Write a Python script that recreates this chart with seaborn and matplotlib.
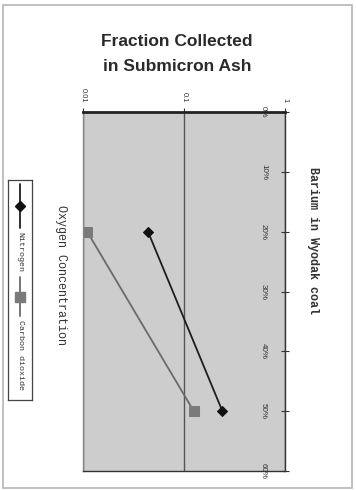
import numpy as np
import pandas as pd
import seaborn as sns
import matplotlib.pyplot as plt
from matplotlib.patches import Rectangle
from matplotlib.lines import Line2D

oxygen = [20, 50]
nitrogen = [0.044, 0.24]
carbon_dioxide = [0.011, 0.125]
oxygen_ticks = [0, 10, 20, 30, 40, 50, 60]
oxygen_labels = ["0%", "10%", "20%", "30%", "40%", "50%", "60%"]
frac_ticks = [0.01, 0.1, 1]
frac_labels = ["0.01", "0.1", "1"]

df = pd.DataFrame({
    "oxygen": oxygen * 2,
    "fraction": nitrogen + carbon_dioxide,
    "gas": ["Nitrogen"] * len(oxygen) + ["Carbon dioxide"] * len(oxygen),
})

styles = {
    "Nitrogen": dict(color="#1e1e1e", marker="D", ms=5.5, mec="#111111", mfc="#111111"),
    "Carbon dioxide": dict(color="#6a6a6a", marker="s", ms=6.5, mec="#7a7a7a", mfc="#7a7a7a"),
}

sns.set_style("white")
plt.rcParams["font.family"] = ["Liberation Sans", "DejaVu Sans"]
mono = ["Liberation Mono", "DejaVu Sans Mono"]

W, H = 356, 490
fig = plt.figure(figsize=(W / 100, H / 100), dpi=100)

# outer frame
fig.patches.append(Rectangle((3 / W, 1 - 488 / H), 349 / W, 483 / H,
                             transform=fig.transFigure, fill=False,
                             edgecolor="#b5b5b5", lw=1.2))

ax = fig.add_axes([83 / W, 1 - 471 / H, 202 / W, 359 / H])
ax.set_facecolor("#cdcdcd")

for gas, st in styles.items():
    sns.lineplot(data=df[df["gas"] == gas], x="fraction", y="oxygen",
                 orient="y", sort=False, ax=ax, lw=1.3,
                 color=st["color"], marker=st["marker"], markersize=st["ms"],
                 markeredgecolor=st["mec"], markerfacecolor=st["mfc"],
                 legend=False)

ax.set_xscale("log")
ax.set_xlim(0.01, 1)
ax.set_ylim(60, 0)
ax.set_xticks(frac_ticks)
ax.set_xticklabels(frac_labels)
ax.minorticks_off()
ax.xaxis.tick_top()
ax.tick_params(axis="x", direction="out", length=3, width=0.8, pad=4,
               labelsize=5.5, labelrotation=-90, colors="#333333")
ax.set_yticks(oxygen_ticks)
ax.set_yticklabels(oxygen_labels)
ax.yaxis.tick_right()
ax.tick_params(axis="y", direction="inout", length=6, width=0.8, pad=-21,
               labelsize=5.8, labelrotation=-90, colors="#333333")
for lab in ax.get_yticklabels():
    lab.set_va("center")
ax.grid(axis="x", which="major", color="#555555", lw=1)
ax.grid(axis="y", visible=False)
ax.set_xlabel("")
ax.set_ylabel("")
for side, sp in ax.spines.items():
    sp.set_visible(True)
    sp.set_color("#333333")
    sp.set_linewidth(1.0)
ax.spines["top"].set_linewidth(2.0)
ax.spines["top"].set_color("#222222")
ax.spines["left"].set_color("#888888")

fig.text(177 / W, 1 - 42 / H, "Fraction Collected", ha="center", va="center",
         fontsize=12.5, fontweight="bold", color="#2a2a2a")
fig.text(177 / W, 1 - 66 / H, "in Submicron Ash", ha="center", va="center",
         fontsize=12.5, fontweight="bold", color="#2a2a2a")

fig.text(313 / W, 1 - 240 / H, "Barium in Wyodak coal", rotation=-90,
         ha="center", va="center", fontsize=8.5, fontweight="bold",
         family=mono, color="#333333")
fig.text(61 / W, 1 - 275 / H, "Oxygen Concentration", rotation=-90,
         ha="center", va="center", fontsize=8.5,
         family=mono, color="#333333")

# legend box, drawn rotated like the rest of the chart
lax = fig.add_axes([8 / W, 1 - 400 / H, 24 / W, 220 / H])
lax.set_xlim(0, 1)
lax.set_ylim(1, 0)
lax.set_xticks([])
lax.set_yticks([])
lax.set_facecolor("white")
for sp in lax.spines.values():
    sp.set_color("#444444")
    sp.set_linewidth(0.9)
entries = [("Nitrogen", 0.02, 0.22, 0.235), ("Carbon dioxide", 0.44, 0.62, 0.635)]
for gas, y0, y1, ty in entries:
    st = styles[gas]
    lax.add_line(Line2D([0.5, 0.5], [y0, y1], color=st["color"], lw=1.3))
    lax.add_line(Line2D([0.5], [(y0 + y1) / 2], marker=st["marker"],
                        ms=st["ms"], mec=st["mec"], mfc=st["mfc"], ls="none"))
    lax.text(0.5, ty, gas, rotation=-90, ha="center", va="top", fontsize=6,
             family=mono, color="#333333")

fig.savefig("out.png", dpi=100)
